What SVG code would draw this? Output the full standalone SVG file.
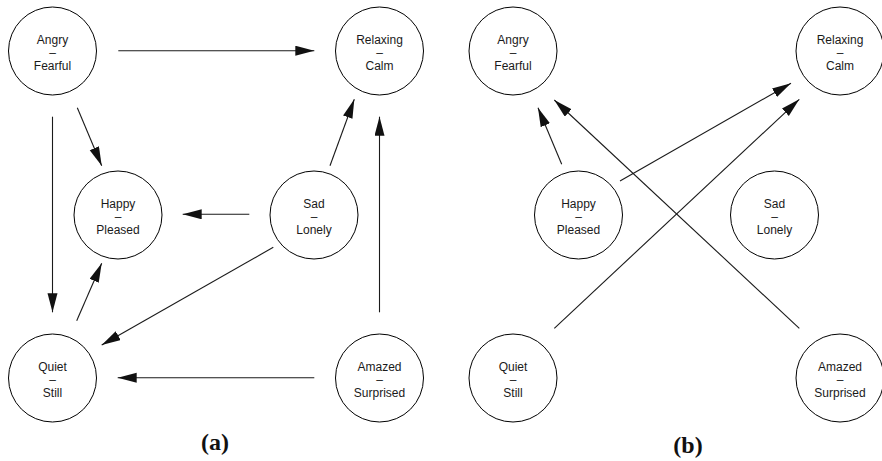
<svg xmlns="http://www.w3.org/2000/svg" width="882" height="461" viewBox="0 0 882 461">
<style>
.n circle{fill:#fff;stroke:#000;stroke-width:1}
.n text{font-family:"Liberation Sans",Arial,sans-serif;font-size:12px;fill:#1a1a1a;text-anchor:middle}
.e path{fill:none;stroke:#1a1a1a;stroke-width:1.1;marker-end:url(#ah)}
.e path.nm{marker-end:none}
.lbl{font-family:"Liberation Serif","Times New Roman",serif;font-size:24px;font-weight:bold;text-anchor:middle;fill:#111}
</style>
<defs>
<marker id="ah" markerUnits="userSpaceOnUse" markerWidth="20" markerHeight="11" refX="19" refY="5" orient="auto">
<path d="M0,0 L19,5 L0,10 z" fill="#111"/>
</marker>
</defs>
<rect width="882" height="461" fill="#fff"/>
<g id="a-angry" class="n"><circle cx="52.5" cy="51" r="44"/><text x="52.5" y="44">Angry</text><text x="52.5" y="57">–</text><text x="52.5" y="70">Fearful</text></g>
<g id="a-relaxing" class="n"><circle cx="379.5" cy="51" r="44"/><text x="379.5" y="44">Relaxing</text><text x="379.5" y="57">–</text><text x="379.5" y="70">Calm</text></g>
<g id="a-happy" class="n"><circle cx="118" cy="215" r="44"/><text x="118" y="208">Happy</text><text x="118" y="221">–</text><text x="118" y="234">Pleased</text></g>
<g id="a-sad" class="n"><circle cx="314" cy="215" r="44"/><text x="314" y="208">Sad</text><text x="314" y="221">–</text><text x="314" y="234">Lonely</text></g>
<g id="a-quiet" class="n"><circle cx="52.5" cy="378" r="44"/><text x="52.5" y="371">Quiet</text><text x="52.5" y="384">–</text><text x="52.5" y="397">Still</text></g>
<g id="a-amazed" class="n"><circle cx="379.5" cy="378" r="44"/><text x="379.5" y="371">Amazed</text><text x="379.5" y="384">–</text><text x="379.5" y="397">Surprised</text></g>
<g id="b-angry" class="n"><circle cx="513" cy="51" r="44"/><text x="513" y="44">Angry</text><text x="513" y="57">–</text><text x="513" y="70">Fearful</text></g>
<g id="b-relaxing" class="n"><circle cx="840" cy="51" r="44"/><text x="840" y="44">Relaxing</text><text x="840" y="57">–</text><text x="840" y="70">Calm</text></g>
<g id="b-happy" class="n"><circle cx="578.5" cy="215" r="44"/><text x="578.5" y="208">Happy</text><text x="578.5" y="221">–</text><text x="578.5" y="234">Pleased</text></g>
<g id="b-sad" class="n"><circle cx="774.5" cy="215" r="44"/><text x="774.5" y="208">Sad</text><text x="774.5" y="221">–</text><text x="774.5" y="234">Lonely</text></g>
<g id="b-quiet" class="n"><circle cx="513" cy="378" r="44"/><text x="513" y="371">Quiet</text><text x="513" y="384">–</text><text x="513" y="397">Still</text></g>
<g id="b-amazed" class="n"><circle cx="840" cy="378" r="44"/><text x="840" y="371">Amazed</text><text x="840" y="384">–</text><text x="840" y="397">Surprised</text></g>
<g id="connectors" class="e">
<path d="M118.3,50.7 L314.3,50.7"/>
<path d="M77.3,107.7 L101.7,165.7"/>
<path d="M52.5,116.7 L52.5,312.3"/>
<path d="M76.7,320.7 L101.7,263.3"/>
<path d="M249.3,214.3 L182.7,214.3"/>
<path d="M330,165.7 L354.3,99.3"/>
<path d="M379.5,312.3 L379.5,116.7"/>
<path d="M273.3,247.3 L101.7,345"/>
<path d="M314.3,377.7 L117.7,377.7"/>
<path d="M561.7,164.3 L538,107.7"/>
<path d="M620,181 L791,83.3"/>
<path d="M554.3,328.3 L799.3,99.3"/>
<path d="M799.3,328.3 L554.3,100"/>
</g>
<text class="lbl" x="215" y="450">(a)</text>
<text class="lbl" x="688" y="452.5">(b)</text>
</svg>
